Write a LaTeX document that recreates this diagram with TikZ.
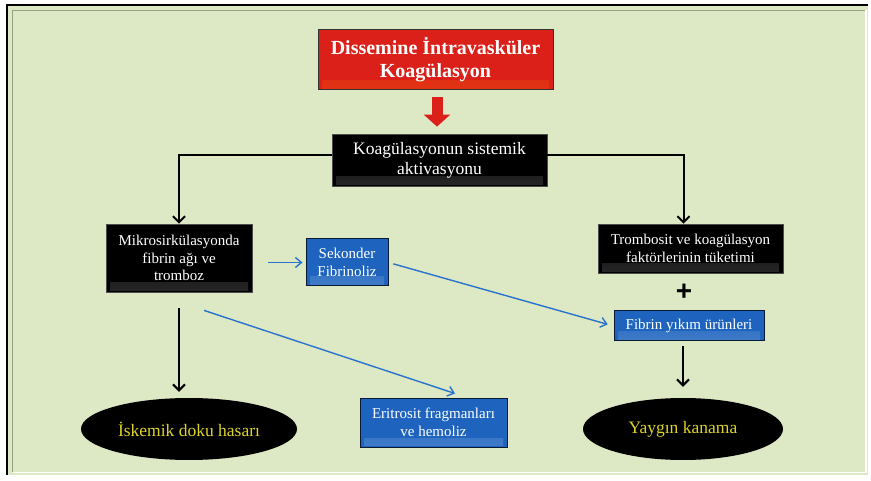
\documentclass[tikz,border=0pt]{standalone}
\usepackage{fontspec}
\setmainfont{Liberation Serif}
\newfontfamily\plusfont{Liberation Sans}
\usepackage{xcolor}
\usetikzlibrary{positioning,calc,shapes.geometric,arrows.meta}

\definecolor{panelgreen}{RGB}{221,232,196}
\definecolor{framegray}{RGB}{150,160,135}
\definecolor{dicred}{RGB}{218,32,24}
\definecolor{boxblue}{RGB}{30,100,190}
\definecolor{lineblue}{RGB}{40,115,205}
\definecolor{ellyellow}{RGB}{222,212,40}

\tikzset{
  bevel/.style 2 args={path picture={\shade[top color=#1, bottom color=#2]
      ([xshift=4pt,yshift=1.5pt]path picture bounding box.south west) rectangle
      ([xshift=-4pt,yshift=9pt]path picture bounding box.south east);}},
  blackbox/.style={draw=black!70, line width=0.8pt, fill=black, text=white, align=center,
      inner sep=0pt, font=\fontsize{15}{17.5}\selectfont, bevel={black}{gray!30!black}},
  bluebox/.style={draw=black!75!boxblue, line width=1pt, fill=boxblue, text=white, align=center,
      inner sep=0pt, font=\fontsize{15}{17.5}\selectfont, bevel={boxblue}{boxblue!85!white}},
  redbox/.style={draw=black!80, line width=1pt, fill=dicred, text=white, align=center,
      inner sep=0pt, font=\bfseries\fontsize{20}{23}\selectfont, bevel={dicred}{dicred!80!orange}},
  endoval/.style={ellipse, fill=black, text=ellyellow, inner sep=0pt,
      font=\fontsize{17.5}{20}\selectfont},
  blackarrow/.style={line width=2pt, -{Straight Barb[length=6pt,width=12pt]}},
  bluearrow/.style={draw=lineblue, line width=1.4pt, -{Straight Barb[length=6pt,width=10pt]}},
  redarrow/.style={draw=dicred, line width=11pt, -{Triangle[length=12pt,width=26pt]}}
}

\begin{document}
\begin{tikzpicture}[x=1pt,y=-1pt]
    \useasboundingbox (0,0) rectangle (871,481);
    % panel
    \fill[white] (0,0) rectangle (871,481);
    \fill[panelgreen] (6,4) rectangle (868,475);
    \draw[framegray, line width=1pt] (12.5,472) -- (12.5,10.5) -- (865,10.5);
    \draw[white, line width=1.2pt] (12.5,472.5) -- (866,472.5) -- (866,10.5);
    \draw[black, line width=2pt] (7,475) -- (7,5) -- (868,5);

    % boxes
    \node[redbox, minimum width=235pt, minimum height=60pt] (dic) at (435.5,60)
        {Dissemine İntravasküler\\Koagülasyon};
    \node[blackbox, minimum width=215pt, minimum height=52pt,
          font=\fontsize{17.5}{20}\selectfont] (koag) at (439.5,160)
        {Koagülasyonun sistemik\\aktivasyonu};
    \node[blackbox, minimum width=146pt, minimum height=68pt] (mikro) at (179,258)
        {Mikrosirkülasyonda\\fibrin ağı ve\\tromboz};
    \node[bluebox, minimum width=82pt, minimum height=47pt] (sekonder) at (347,262.5)
        {Sekonder\\Fibrinoliz};
    \node[blackbox, minimum width=185pt, minimum height=49pt] (tromb) at (690.5,248.5)
        {Trombosit ve koagülasyon\\faktörlerinin tüketimi};
    \node[font=\plusfont\bfseries\fontsize{28}{28}\selectfont] (plus) at (684,292) {+};
    \node[bluebox, minimum width=150pt, minimum height=30pt] (fibrin) at (689,326)
        {Fibrin yıkım ürünleri};
    \node[bluebox, minimum width=147pt, minimum height=49pt] (eritro) at (433.5,422.5)
        {Eritrosit fragmanları\\ve hemoliz};
    \node[endoval, minimum width=216pt, minimum height=62pt] (iskemi) at (189,429)
        {İskemik doku hasarı};
    \node[endoval, minimum width=200pt, minimum height=62pt] (kanama) at (683,429)
        {Yaygın kanama};

    % connectors
    \draw[redarrow, shorten <=7pt, shorten >=7pt] ([xshift=1.5pt]dic.south) -- ([xshift=-2.5pt]koag.north);
    \draw[blackarrow] ([yshift=5pt]koag.west) -| (mikro.north);
    \draw[blackarrow] ([yshift=5pt]koag.east) -| ([xshift=-7pt]tromb.north);
    \draw[blackarrow, shorten <=16pt, shorten >=6pt] (mikro.south) -- (iskemi.north -| mikro.south);
    \draw[blackarrow, shorten <=5pt, shorten >=11pt] ([xshift=-6pt]fibrin.south) -- (kanama.north);
    \draw[bluearrow, shorten <=16pt, shorten >=3pt] (mikro.east |- sekonder.west) -- (sekonder.west);
    \draw[bluearrow, shorten <=5pt, shorten >=6pt] (sekonder.east) -- (fibrin.west);
    \draw[bluearrow] ([xshift=25pt,yshift=-18pt]mikro.south) -- ([xshift=21.5pt,yshift=4pt]eritro.north);
\end{tikzpicture}
\end{document}
